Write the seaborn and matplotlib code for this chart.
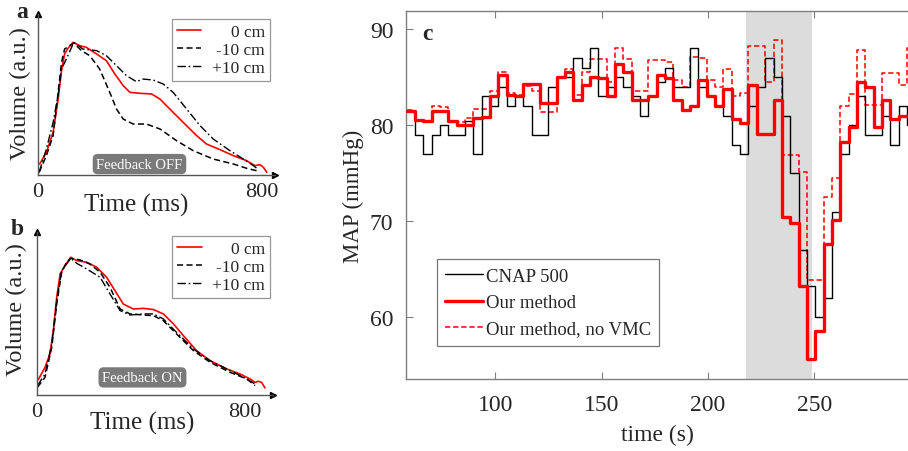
import numpy as np
import pandas as pd
import matplotlib
matplotlib.use("Agg")
import matplotlib.pyplot as plt
import seaborn as sns

# ---------------- panel a (Feedback OFF) ----------------
a_red_t = [7, 31, 55, 73, 85, 96, 108, 126, 150, 174, 210, 245, 275, 305, 329, 364, 406, 436, 471, 519, 567, 602, 650, 698, 745, 775, 793, 805, 817]
a_red_v = [0.082, 0.169, 0.318, 0.566, 0.778, 0.902, 0.944, 0.989, 0.964, 0.951, 0.902, 0.852, 0.753, 0.666, 0.616, 0.609, 0.604, 0.566, 0.492, 0.392, 0.293, 0.231, 0.189, 0.144, 0.107, 0.070, 0.077, 0.057, 0.020]
a_neg_t = [5, 31, 55, 73, 85, 96, 114, 129, 156, 186, 221, 257, 281, 305, 340, 388, 436, 495, 555, 626, 698, 745, 781]
a_neg_v = [0.020, 0.144, 0.293, 0.616, 0.840, 0.939, 0.964, 0.984, 0.927, 0.889, 0.790, 0.616, 0.492, 0.417, 0.380, 0.380, 0.343, 0.256, 0.181, 0.119, 0.082, 0.050, 0.032]
a_pos_t = [5, 31, 55, 73, 85, 102, 129, 161, 210, 245, 281, 317, 352, 376, 412, 448, 483, 531, 579, 626, 686, 733, 769, 781]
a_pos_v = [0.020, 0.194, 0.392, 0.600, 0.790, 0.864, 0.989, 0.939, 0.927, 0.889, 0.815, 0.740, 0.696, 0.715, 0.708, 0.678, 0.616, 0.492, 0.368, 0.268, 0.181, 0.119, 0.070, 0.050]

# ---------------- panel b (Feedback ON) ----------------
b_red_t = [6, 32, 51, 64, 77, 90, 109, 131, 154, 192, 231, 269, 301, 333, 372, 410, 449, 487, 526, 564, 615, 667, 731, 782, 821, 840, 853, 865, 878]
b_red_v = [0.113, 0.204, 0.302, 0.475, 0.720, 0.893, 0.954, 1.016, 0.991, 0.979, 0.942, 0.868, 0.770, 0.671, 0.634, 0.639, 0.630, 0.598, 0.524, 0.438, 0.327, 0.253, 0.192, 0.155, 0.118, 0.093, 0.101, 0.093, 0.052]
b_neg_t = [3, 32, 58, 77, 96, 115, 131, 167, 205, 244, 282, 321, 359, 410, 449, 487, 538, 603, 667, 744, 808, 840]
b_neg_v = [0.057, 0.130, 0.352, 0.671, 0.905, 0.979, 1.008, 0.996, 0.966, 0.905, 0.794, 0.634, 0.598, 0.590, 0.585, 0.548, 0.450, 0.327, 0.241, 0.167, 0.118, 0.069]
b_pos_t = [3, 32, 58, 77, 96, 131, 154, 192, 244, 282, 321, 359, 410, 449, 487, 538, 603, 667, 744, 808, 840]
b_pos_v = [0.069, 0.155, 0.376, 0.696, 0.917, 1.008, 0.971, 0.930, 0.868, 0.745, 0.622, 0.590, 0.598, 0.598, 0.561, 0.462, 0.339, 0.253, 0.180, 0.118, 0.081]

wave_labels = ["0 cm", "-10 cm", "+10 cm"]

# ---------------- panel c (MAP) ----------------
c_t0 = 58.3      # start of first step (s)
c_dt = 3.92      # step duration (s)
cnap = [81.5, 79, 77, 79, 80, 79, 79, 80.5, 77, 83, 82, 84, 82, 83, 82, 79, 79, 84, 85, 85,
        87, 86, 88, 83, 84, 85, 84, 83, 81, 83, 84.5, 86, 84, 84, 88, 84, 83, 82, 81, 78,
        77, 82, 84, 87, 85, 81, 75, 67, 63.3, 60, 62, 71, 77, 80, 83, 79, 79, 81, 78, 82, 80]
ours = [81.5, 80.6, 80.5, 81.5, 81.5, 80.5, 80, 80, 80.8, 80.9, 83, 85.2, 83.2, 83, 84.3, 84.3, 82.3, 82.3, 85, 85.5,
        82.6, 84.2, 85, 84.9, 83, 86.4, 85.6, 82.6, 82.6, 83, 85.2, 84.9, 82.6, 81.6, 82, 84.7, 83, 82, 83.8, 80.7,
        80.2, 84.2, 79.1, 79.1, 82.6, 70.5, 69.8, 63.3, 55.7, 58.6, 67.7, 70.1, 78.3, 79.8, 84.5, 84, 79.8, 82.6, 80.7, 81, 81]
novmc = [81.6, 80.5, 80.5, 82, 81.9, 80.5, 80.3, 80.8, 81.7, 81.7, 83.6, 85.6, 83.4, 83.2, 84.1, 83.6, 81.4, 81.4, 84.9, 85.9,
         83.2, 85.5, 86.9, 86.9, 84.5, 88, 86.9, 83.6, 83.6, 86.8, 86.8, 86.6, 84.7, 84, 87.1, 87, 84.7, 84, 85.9, 83.1,
         83.4, 88.3, 88.3, 84.5, 88.9, 76.9, 76.9, 75.1, 63.9, 63.9, 72.5, 74.5, 82, 83.3, 87.8, 82.1, 82.1, 85.4, 85.4, 84.2, 88]
c_labels = ["CNAP 500", "Our method", "Our method, no VMC"]
shade_span = (218, 249)
c_xticks = [100, 150, 200, 250]
c_yticks = [60, 70, 80, 90]

# ------------------------------------------------------------------
sns.set_style("white")
plt.rcParams['font.family'] = ['Liberation Serif', 'DejaVu Serif']

fig = plt.figure(figsize=(9.08, 4.52), dpi=100)

GRAY = '#7f7f7f'


def right_align_legend(leg):
    texts = leg.get_texts()
    fig.canvas.draw()
    widths = [t.get_window_extent().width for t in texts]
    wmax = max(widths)
    for t, w in zip(texts, widths):
        t.set_position((wmax - w, 0))


def wave_panel(ax, red, neg, pos, xmax, tag, fb_xy, tag_xy, leg_xy, ylab_xy, xlab_xy, feedback_text):
    sns.lineplot(x=red[0], y=red[1], ax=ax, color='red', lw=1.2, label=wave_labels[0], sort=False)
    sns.lineplot(x=neg[0], y=neg[1], ax=ax, color='black', lw=1.1, linestyle=(0, (4, 2.2)), label=wave_labels[1], sort=False)
    sns.lineplot(x=pos[0], y=pos[1], ax=ax, color='black', lw=1.0, linestyle=(0, (6, 2, 1.2, 2)), label=wave_labels[2], sort=False)
    ax.set_xlim(0, xmax)
    ax.set_ylim(0, 1.2)
    ax.set_xticks([0, 800])
    ax.set_xticklabels(["0", "800"])
    ax.set_yticks([])
    ax.tick_params(axis='x', length=0, labelsize=16, pad=5)
    for s in ['top', 'right']:
        ax.spines[s].set_visible(False)
    for s in ['left', 'bottom']:
        ax.spines[s].set_color('#555555')
        ax.spines[s].set_linewidth(1.0)
    ax.plot(1, 0, '>', color='black', ms=4, transform=ax.transAxes, clip_on=False)
    ax.plot(0, 1, '^', color='black', ms=4, transform=ax.transAxes, clip_on=False)
    ax.set_xlabel("Time (ms)", fontsize=18)
    ax.set_ylabel("Volume (a.u.)", fontsize=17.5)
    ax.xaxis.set_label_coords(*xlab_xy)
    ax.yaxis.set_label_coords(*ylab_xy)
    leg = ax.legend(loc='upper left', bbox_to_anchor=leg_xy, borderaxespad=0, frameon=True,
                    fancybox=False, edgecolor=GRAY, fontsize=12.5, handlelength=1.4,
                    handletextpad=0.6, labelspacing=0.1, borderpad=0.3)
    leg.get_frame().set_linewidth(0.9)
    right_align_legend(leg)
    ax.text(*fb_xy, feedback_text, transform=ax.transAxes, ha='center', va='center',
            color='white', fontsize=10.5,
            bbox=dict(boxstyle='round,pad=0.25,rounding_size=0.35', fc='#7a7a7a', ec='none'))
    fig.text(*tag_xy, tag, fontsize=17, fontweight='bold', ha='center', va='center')


ax_a = fig.add_axes([0.0415, 0.6106, 0.2613, 0.3562])
wave_panel(ax_a, (a_red_t, a_red_v), (a_neg_t, a_neg_v), (a_pos_t, a_pos_v), 846, 'a',
           (0.429, 0.068), (0.024, 0.972), (0.566, 0.969), (-0.03, 0.51), (0.414, -0.11),
           "Feedback OFF")

ax_b = fig.add_axes([0.0404, 0.1239, 0.2606, 0.3600])
wave_panel(ax_b, (b_red_t, b_red_v), (b_neg_t, b_neg_v), (b_pos_t, b_pos_v), 910, 'b',
           (0.447, 0.108), (0.019, 0.492), (0.572, 0.977), (-0.04, 0.53), (0.444, -0.10),
           "Feedback ON")

# ---------------- panel c ----------------
ax_c = fig.add_axes([0.4471, 0.1593, 0.5529, 0.8142])
n = len(cnap)
t_edges = c_t0 + c_dt * np.arange(n + 1)
df = pd.DataFrame({
    't': t_edges,
    'cnap': cnap + [cnap[-1]],
    'ours': ours + [ours[-1]],
    'novmc': novmc + [novmc[-1]],
})
ax_c.axvspan(*shade_span, color='#dcdcdc', lw=0, zorder=0)
sns.lineplot(data=df, x='t', y='cnap', ax=ax_c, color='black', lw=1.0,
             drawstyle='steps-post', label=c_labels[0], zorder=3)
sns.lineplot(data=df, x='t', y='ours', ax=ax_c, color='red', lw=2.4,
             drawstyle='steps-post', label=c_labels[1], zorder=4)
sns.lineplot(data=df, x='t', y='novmc', ax=ax_c, color='red', lw=1.1,
             linestyle=(0, (3.5, 1.8)), drawstyle='steps-post', label=c_labels[2], zorder=2)
ax_c.set_xlim(58, 294)
ax_c.set_ylim(53.6, 91.9)
ax_c.set_xticks(c_xticks)
ax_c.set_yticks(c_yticks)
ax_c.tick_params(direction='in', length=5, width=0.8, color=GRAY, labelsize=17,
                 top=True, bottom=True, left=True, right=False)
ax_c.tick_params(axis='x', pad=11)
ax_c.tick_params(axis='y', pad=9)
ax_c.spines['right'].set_visible(False)
for s in ['left', 'bottom', 'top']:
    ax_c.spines[s].set_color(GRAY)
    ax_c.spines[s].set_linewidth(1.0)
ax_c.set_xlabel("time (s)", fontsize=17, labelpad=6)
ax_c.set_ylabel("MAP (mmHg)", fontsize=16.5)
ax_c.text(0.043, 0.94, 'c', transform=ax_c.transAxes, fontsize=17, fontweight='bold',
          ha='center', va='center')
legc = ax_c.legend(loc='upper left', bbox_to_anchor=(0.0618, 0.326), borderaxespad=0,
                   frameon=True, fancybox=False, edgecolor='#555555', fontsize=13.5,
                   handlelength=2.0, handletextpad=0.15, labelspacing=0.5, borderpad=0.45)
legc.get_frame().set_linewidth(0.9)

fig.savefig("out.png", dpi=100)
